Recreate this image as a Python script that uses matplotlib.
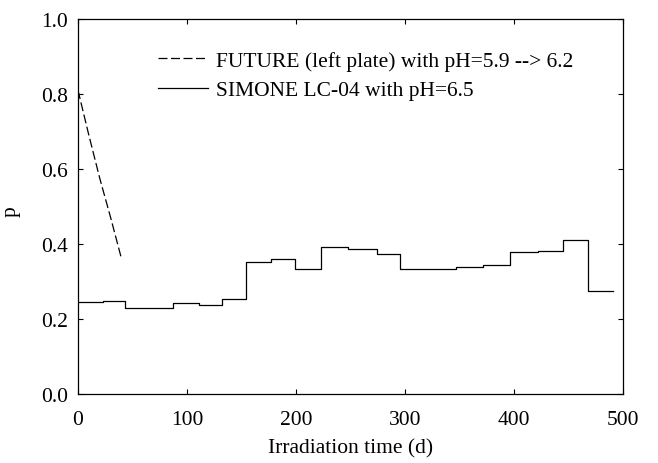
import matplotlib.pyplot as plt

# SIMONE LC-04 step curve: segment edges (d) and value per segment
simone_edges = [0, 23, 43, 67.5, 87.3, 111, 132.5, 154, 177, 199, 223, 248,
                274, 295.5, 321, 347, 372, 396, 421.6, 445, 468, 491]
simone_p = [0.246, 0.248, 0.2285, 0.23, 0.2435, 0.238, 0.254, 0.352, 0.361,
            0.3325, 0.393, 0.386, 0.374, 0.3325, 0.334, 0.339, 0.343, 0.38,
            0.381, 0.4115, 0.2755]

# FUTURE (left plate)
future_t = [0, 10, 20, 30, 40]
future_p = [0.81, 0.69, 0.575, 0.47, 0.36]

xticks = [0, 100, 200, 300, 400, 500]
yticks = [0.0, 0.2, 0.4, 0.6, 0.8, 1.0]

plt.rcParams['font.family'] = ['Liberation Serif', 'DejaVu Serif']
plt.rcParams['font.size'] = 15.5

fig = plt.figure(figsize=(6.58, 4.64), dpi=100)
ax = fig.add_axes([0.1185, 0.1487, 0.8283, 0.8082])

ax.plot(future_t, future_p, color='black', lw=0.9, dashes=(7.2, 2.8),
        label='FUTURE (left plate) with pH=5.9 --> 6.2')
ax.step(simone_edges, simone_p + [simone_p[-1]], where='post', color='black',
        lw=0.9, label='SIMONE LC-04 with pH=6.5')

ax.set_xlim(0, 500)
ax.set_ylim(0, 1.0)
ax.set_xticks(xticks)
ax.set_yticks(yticks)
ax.set_yticklabels(['%.1f' % v for v in yticks])
ax.tick_params(direction='in', length=3.6, width=0.8, top=True, right=True)
ax.tick_params(axis='x', pad=11.5)
ax.tick_params(axis='y', pad=7)
for s in ax.spines.values():
    s.set_linewidth(0.9)

ax.set_xlabel('Irradiation time (d)')
ax.set_ylabel('p')
ax.yaxis.set_label_coords(-0.106, 0.49)
ax.xaxis.set_label_coords(0.5, -0.117)

ax.legend(loc='upper left', bbox_to_anchor=(0.147, 0.915), frameon=False,
          borderpad=0, borderaxespad=0, handlelength=2.3, handletextpad=0.4,
          labelspacing=0.42)

fig.savefig('out.png', dpi=100)
